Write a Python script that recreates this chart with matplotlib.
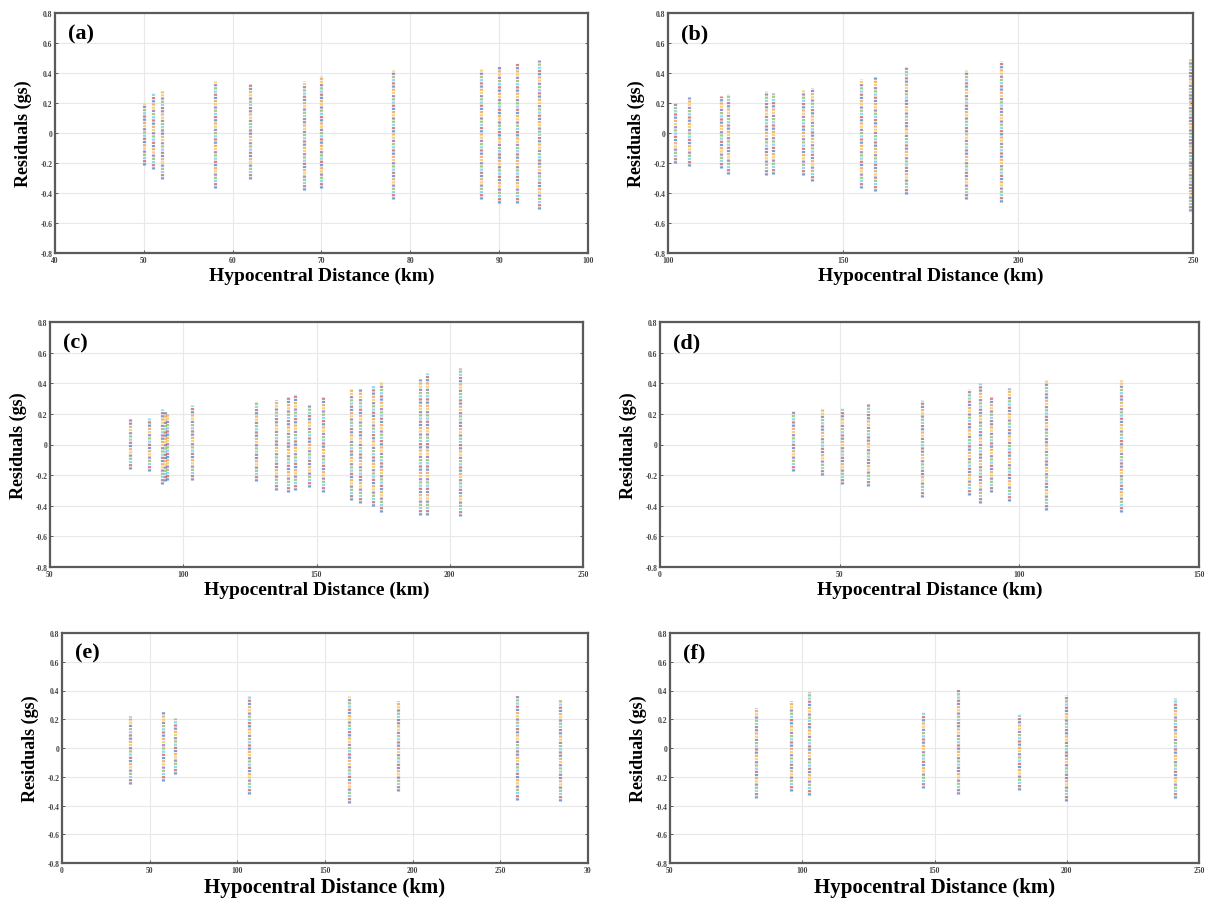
import matplotlib
matplotlib.use('Agg')
import matplotlib.pyplot as plt
import numpy as np

plt.rcParams['font.family'] = ['Liberation Serif', 'DejaVu Serif']
plt.rcParams['lines.scale_dashes'] = False

# residual tick values / labels (same on every panel)
y_ticks = [-0.8, -0.6, -0.4, -0.2, 0, 0.2, 0.4, 0.6, 0.8]
y_labels = ['-0.8', '-0.6', '-0.4', '-0.2', '0', '0.2', '0.4', '0.6', '0.8']

# ---- (a)
dist_a = [50, 51, 52, 58, 62, 68, 70, 78, 88, 90, 92, 94.5]
hi_a = [0.20, 0.27, 0.28, 0.35, 0.33, 0.35, 0.38, 0.42, 0.43, 0.45, 0.47, 0.49]
lo_a = [-0.21, -0.24, -0.31, -0.37, -0.31, -0.38, -0.37, -0.44, -0.44, -0.47, -0.47, -0.51]
xt_a = [40, 50, 60, 70, 80, 90, 100]

# ---- (b)
dist_b = [102, 106, 115, 117, 128, 130, 138.5, 141, 155, 159, 168, 185, 195, 249]
hi_b = [0.20, 0.24, 0.25, 0.26, 0.28, 0.27, 0.29, 0.30, 0.36, 0.38, 0.44, 0.42, 0.48, 0.50]
lo_b = [-0.20, -0.22, -0.23, -0.27, -0.28, -0.27, -0.28, -0.32, -0.37, -0.39, -0.41, -0.44, -0.46, -0.52]
xt_b = [100, 150, 200, 250]

# ---- (c)
dist_c = [80, 87, 92, 93, 94, 103.4, 127.3, 134.9, 139.2, 142.1, 147.2, 152.3,
          162.9, 166.4, 171.3, 174.3, 188.8, 191.3, 203.9]
hi_c = [0.17, 0.17, 0.23, 0.22, 0.20, 0.26, 0.28, 0.29, 0.31, 0.33, 0.26, 0.31,
        0.36, 0.37, 0.39, 0.41, 0.43, 0.47, 0.50]
lo_c = [-0.16, -0.17, -0.26, -0.24, -0.23, -0.23, -0.24, -0.30, -0.31, -0.30, -0.28, -0.31,
        -0.36, -0.38, -0.40, -0.44, -0.46, -0.46, -0.47]
xt_c = [50, 100, 150, 200, 250]

# ---- (d)
dist_d = [37, 45, 50.7, 58, 73, 86, 89, 92, 97, 107.3, 128.4]
hi_d = [0.22, 0.23, 0.24, 0.27, 0.29, 0.36, 0.40, 0.32, 0.37, 0.42, 0.42]
lo_d = [-0.17, -0.20, -0.26, -0.27, -0.34, -0.33, -0.38, -0.31, -0.37, -0.43, -0.44]
xt_d = [0, 50, 100, 150]

# ---- (e)
dist_e = [38.5, 57.4, 64.4, 106.6, 163.8, 191.5, 259.6, 284.3]
hi_e = [0.22, 0.26, 0.21, 0.36, 0.36, 0.33, 0.37, 0.34]
lo_e = [-0.25, -0.23, -0.18, -0.32, -0.38, -0.30, -0.36, -0.37]
xt_e = [0, 50, 100, 150, 200, 250, 300]
xl_e = ['0', '50', '100', '150', '200', '250', '30']

# ---- (f)
dist_f = [82.6, 95.6, 102.6, 145.6, 158.8, 182.1, 199.7, 240.9]
hi_f = [0.28, 0.33, 0.39, 0.25, 0.41, 0.24, 0.37, 0.35]
lo_f = [-0.35, -0.30, -0.33, -0.28, -0.32, -0.29, -0.37, -0.35]
xt_f = [50, 100, 150, 200, 250]

panels = [
    ('(a)', dist_a, lo_a, hi_a, xt_a, None, [55, 14, 588, 254], 14),
    ('(b)', dist_b, lo_b, hi_b, xt_b, None, [668, 14, 1193, 254], 14),
    ('(c)', dist_c, lo_c, hi_c, xt_c, None, [50, 323, 583, 568], 14),
    ('(d)', dist_d, lo_d, hi_d, xt_d, None, [660, 323, 1199, 568], 14),
    ('(e)', dist_e, lo_e, hi_e, xt_e, xl_e, [62, 634, 588, 864], 15),
    ('(f)', dist_f, lo_f, hi_f, xt_f, None, [670, 634, 1199, 864], 15),
]

# dot colours cycling along each column
dot_cols = ['#4a7fc8', '#f09a45', '#f0c650', '#8a6bb0', '#86bb5a', '#6ccbee', '#c85a5a']

W, H = 1207, 904
fig = plt.figure(figsize=(W / 100, H / 100), dpi=100)

step = 2.3  # points between dots
for lab, dist, lo, hi, xt, xl, box, fs in panels:
    x0, y0, x1, y1 = box
    ax = fig.add_axes([x0 / W, 1 - y1 / H, (x1 - x0) / W, (y1 - y0) / H])
    ncol = len(dot_cols)
    for i, c in enumerate(dot_cols):
        ax.vlines(dist, lo, hi, colors=c, linewidth=2.3, alpha=0.75,
                  linestyles=[(i * step, (1.6, ncol * step - 1.6))])
    ax.set_xlim(xt[0], xt[-1])
    ax.set_ylim(-0.8, 0.8)
    ax.set_xticks(xt)
    ax.set_xticklabels(xl if xl else [str(v) for v in xt])
    ax.set_yticks(y_ticks)
    ax.set_yticklabels(y_labels)
    ax.grid(True, color='#e8e8e8', linewidth=0.8)
    ax.set_axisbelow(True)
    ax.tick_params(direction='in', length=2, width=0.6, labelsize=5.5,
                   colors='#444444', right=True, top=False, pad=2)
    for t in ax.get_xticklabels() + ax.get_yticklabels():
        t.set_fontweight('bold')
    for s in ax.spines.values():
        s.set_color('#5a5a5a')
        s.set_linewidth(1.6)
    ax.set_xlabel('Hypocentral Distance (km)', fontsize=fs, fontweight='bold', labelpad=2)
    ax.set_ylabel('Residuals (gs)', fontsize=13, fontweight='bold', labelpad=6)
    ax.text(0.025, 0.915, lab, transform=ax.transAxes, fontsize=16,
            fontweight='bold', va='center', ha='left')

fig.savefig('out.png', dpi=100, facecolor='white')
